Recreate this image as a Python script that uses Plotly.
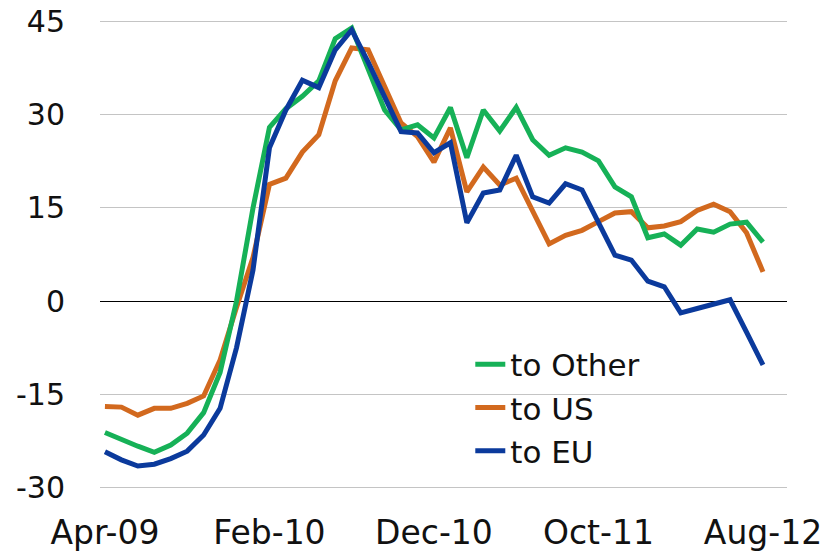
import pandas as pd
import plotly.graph_objects as go

# Monthly categories Apr-09 .. Aug-12
months = list(pd.date_range("2009-04-01", periods=41, freq="MS").strftime("%b-%y"))

tick_labels = ["Apr-09", "Feb-10", "Dec-10", "Oct-11", "Aug-12"]
y_ticks = [-30, -15, 0, 15, 30, 45]
y_tick_text = ["-30", "-15", "0", "15", "30", "45"]

to_other = [-21.2, -22.4, -23.4, -24.4, -23.2, -21.3, -18.0, -11.5, 0.0, 15.0,
            28.0, 31.0, 33.0, 35.5, 42.3, 44.0, 37.5, 30.8, 27.6, 28.4,
            26.3, 31.2, 23.1, 30.8, 27.4, 31.2, 26.0, 23.5, 24.7, 24.0,
            22.6, 18.4, 16.8, 10.2, 10.8, 9.0, 11.6, 11.1, 12.4, 12.7, 9.5]

to_us = [-17.0, -17.1, -18.4, -17.3, -17.3, -16.5, -15.3, -9.5, -1.0, 7.0,
         18.8, 19.8, 24.0, 26.8, 35.5, 40.8, 40.5, 34.5, 28.7, 26.5,
         22.4, 27.9, 17.6, 21.6, 18.7, 19.8, 14.3, 9.2, 10.6, 11.4,
         12.8, 14.2, 14.4, 11.8, 12.1, 12.8, 14.6, 15.6, 14.4, 11.0, 4.7]

to_eu = [-24.3, -25.6, -26.6, -26.3, -25.4, -24.2, -21.6, -17.3, -7.5, 5.0,
         24.7, 30.8, 35.6, 34.4, 40.5, 43.7, 38.5, 33.0, 27.3, 27.1,
         23.9, 25.5, 12.6, 17.4, 17.9, 23.5, 16.8, 15.8, 18.9, 17.9,
         12.8, 7.4, 6.6, 3.2, 2.3, -1.9, -1.2, -0.5, 0.2, -5.0, -10.3]

GREEN = "#16B157"
ORANGE = "#D2691E"
BLUE = "#0B3A9C"
FONT = "DejaVu Sans"

fig = go.Figure()
fig.add_trace(go.Scatter(x=months, y=to_us, mode="lines", name="to US",
                         line=dict(color=ORANGE, width=5), legendrank=2))
fig.add_trace(go.Scatter(x=months, y=to_other, mode="lines", name="to Other",
                         line=dict(color=GREEN, width=5), legendrank=1))
fig.add_trace(go.Scatter(x=months, y=to_eu, mode="lines", name="to EU",
                         line=dict(color=BLUE, width=5), legendrank=3))

fig.update_layout(
    width=830, height=554,
    margin=dict(l=100, r=43, t=20, b=65, autoexpand=False),
    paper_bgcolor="white", plot_bgcolor="white",
    font=dict(family=FONT, color="#111111"),
    showlegend=True,
    legend=dict(x=0.539, y=0.323, xanchor="left", yanchor="top",
                bgcolor="rgba(0,0,0,0)", font=dict(size=31, family=FONT),
                tracegroupgap=0, itemwidth=30),
    xaxis=dict(type="category", range=[-0.3, 41.46], automargin=False,
               tickmode="array", tickvals=tick_labels, ticktext=tick_labels,
               showgrid=False, zeroline=False, showline=False, ticks="",
               tickfont=dict(size=33, family=FONT), ticklabelstandoff=21),
    yaxis=dict(range=[-30.3, 45.3], automargin=False,
               tickmode="array", tickvals=y_ticks, ticktext=y_tick_text,
               showgrid=True, gridcolor="#c4c4c4", gridwidth=1,
               zeroline=True, zerolinecolor="#000000", zerolinewidth=1.3,
               showline=False, ticks="",
               tickfont=dict(size=30, family=FONT), ticklabelstandoff=34),
)

fig.write_html("out.html", config={"displayModeBar": False},
               post_script="document.body.style.margin='0';document.body.style.padding='0';")
